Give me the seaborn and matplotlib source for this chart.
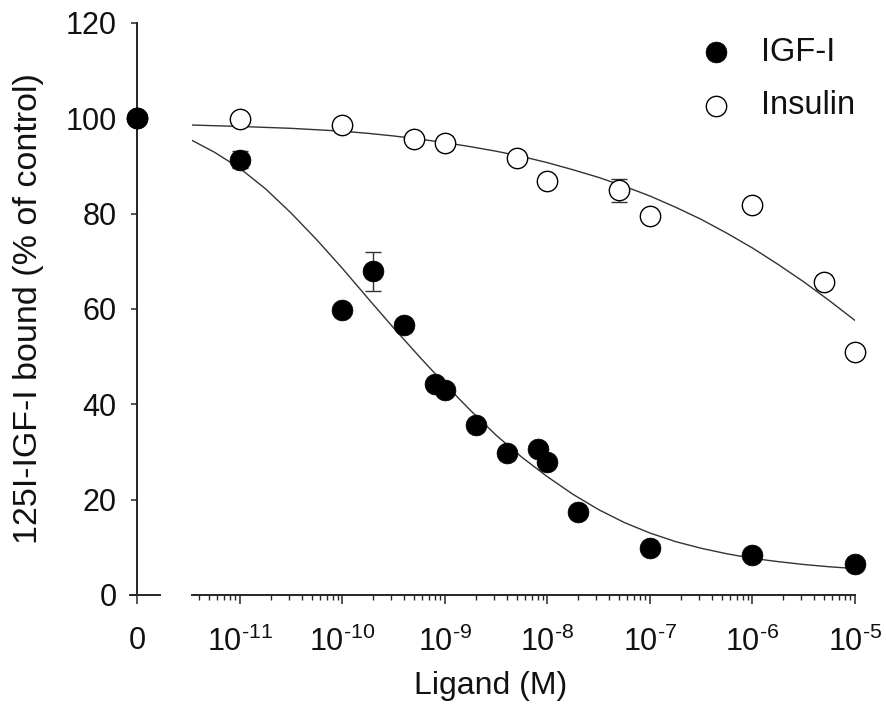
import matplotlib.pyplot as plt
import seaborn as sns
import pandas as pd
import numpy as np

# --- data -----------------------------------------------------------------
igf_conc = [0, 1e-11, 1e-10, 2e-10, 4e-10, 8e-10, 1e-9, 2e-9, 4e-9, 8e-9,
            1e-8, 2e-8, 1e-7, 1e-6, 1e-5]
igf_bound = [100, 91.3, 59.7, 67.9, 56.6, 44.2, 43.0, 35.6, 29.7, 30.7,
             27.9, 17.5, 9.8, 8.4, 6.5]
igf_sem = [0, 1.8, 0, 4.1, 0, 0, 0, 0, 0, 0, 0, 0, 0, 0, 0]

ins_conc = [0, 1e-11, 1e-10, 5e-10, 1e-9, 5e-9, 1e-8, 5e-8, 1e-7, 1e-6,
            5e-6, 1e-5]
ins_bound = [100, 99.9, 98.7, 95.7, 94.8, 91.7, 86.9, 84.9, 79.5, 81.8,
             65.7, 51.0]
ins_sem = [0, 0, 0, 0, 1.5, 0, 0, 2.4, 0, 0, 1.5, 0]

# fitted curves, read at quarter-decade steps of log10(concentration)
fit_logc = [-11.47, -11.25, -11.0, -10.75, -10.5, -10.25, -10.0, -9.75,
            -9.5, -9.25, -9.0, -8.75, -8.5, -8.25, -8.0, -7.75, -7.5,
            -7.25, -7.0, -6.75, -6.5, -6.25, -6.0, -5.75, -5.5, -5.25,
            -5.0]
igf_fit_bound = [95.4, 92.9, 89.5, 85.2, 80.1, 74.5, 68.5, 62.2, 56.0, 50.0,
                 44.2, 38.7, 33.5, 28.9, 24.8, 21.1, 17.9, 15.2, 13.0, 11.2,
                 9.8, 8.65, 7.7, 7.0, 6.4, 5.92, 5.55]
ins_fit_bound = [98.6, 98.45, 98.3, 98.1, 97.9, 97.6, 97.3, 96.85, 96.3,
                 95.65, 94.9, 94.05, 93.1, 92.0, 90.7, 89.2, 87.6, 85.75,
                 83.7, 81.35, 78.8, 75.9, 72.8, 69.35, 65.7, 61.75, 57.6]

decades = [-11, -10, -9, -8, -7, -6, -5]
y_ticks = [0, 20, 40, 60, 80, 100, 120]

igf = pd.DataFrame({'conc': igf_conc, 'bound': igf_bound, 'sem': igf_sem})
ins = pd.DataFrame({'conc': ins_conc, 'bound': ins_bound, 'sem': ins_sem})
fit_conc = 10.0 ** np.array(fit_logc)
igf_fit = pd.DataFrame({'conc': fit_conc, 'bound': igf_fit_bound})
ins_fit = pd.DataFrame({'conc': fit_conc, 'bound': ins_fit_bound})

# --- style ------------------------------------------------------------------
sns.set_theme(style="ticks")
plt.rcParams['font.family'] = ['Liberation Sans', 'DejaVu Sans']
plt.rcParams['mathtext.fontset'] = 'custom'
plt.rcParams['mathtext.rm'] = 'Liberation Sans'
plt.rcParams['mathtext.default'] = 'regular'

FS = 22
TXT = '#111111'
LINE = '#333333'

fig = plt.figure(figsize=(8.87, 7.13), dpi=100)
W, H = 887, 713
ax0 = fig.add_axes([130 / W, 118 / H, 30 / W, 572 / H])   # the "0" segment
ax = fig.add_axes([192 / W, 118 / H, 663 / W, 572 / H])   # log segment

# --- zero-concentration segment --------------------------------------------
z_ins = ins[ins['conc'] == 0]
z_igf = igf[igf['conc'] == 0]
sns.scatterplot(data=z_ins, x='conc', y='bound', ax=ax0, s=215, marker='o',
                facecolor='white', edgecolor='black', linewidth=1.0,
                clip_on=False, zorder=3)
sns.scatterplot(data=z_igf, x='conc', y='bound', ax=ax0, s=225, marker='o',
                color='black', edgecolor='black', linewidth=0.5,
                clip_on=False, zorder=4)
ax0.set_xlim(-0.233, 0.767)
ax0.set_ylim(0, 120)
ax0.set_xticks([0])
ax0.set_xticklabels(['0'])
ax0.set_yticks(y_ticks)
ax0.spines['left'].set_position(('data', 0))
for s in ['top', 'right']:
    ax0.spines[s].set_visible(False)
for s in ['left', 'bottom']:
    ax0.spines[s].set_linewidth(1.4)
ax0.tick_params(axis='x', direction='out', length=6.5, width=1.1,
                labelsize=FS, pad=16, labelcolor=TXT)
ax0.tick_params(axis='y', direction='out', length=4.5, width=1.1,
                labelsize=FS, pad=10, labelcolor=TXT)
ax0.set_xlabel('')
ax0.set_ylabel('125I-IGF-I bound (% of control)', fontsize=24.5, color=TXT)
ax0.yaxis.set_label_coords(-2.87, 0.5)

# --- log segment ----------------------------------------------------------
sns.lineplot(data=igf_fit, x='conc', y='bound', ax=ax, color=LINE,
             linewidth=1.0, zorder=1)
sns.lineplot(data=ins_fit, x='conc', y='bound', ax=ax, color=LINE,
             linewidth=1.0, zorder=1)

nz_igf = igf[igf['conc'] > 0]
nz_ins = ins[ins['conc'] > 0]
ax.errorbar(nz_igf['conc'], nz_igf['bound'], yerr=nz_igf['sem'], fmt='none',
            ecolor=LINE, elinewidth=1.0, capsize=5.5, capthick=1.0, zorder=2)
ax.errorbar(nz_ins['conc'], nz_ins['bound'], yerr=nz_ins['sem'], fmt='none',
            ecolor=LINE, elinewidth=1.0, capsize=5.5, capthick=1.0, zorder=2)

sns.scatterplot(data=nz_igf, x='conc', y='bound', ax=ax, s=225, marker='o',
                color='black', edgecolor='black', linewidth=0.5,
                clip_on=False, zorder=4, label='IGF-I')
sns.scatterplot(data=nz_ins, x='conc', y='bound', ax=ax, s=215, marker='o',
                facecolor='white', edgecolor='black', linewidth=1.0,
                clip_on=False, zorder=3, label='Insulin')

ax.set_xscale('log')
ax.set_xlim(10 ** -11.468, 1e-5)
ax.set_ylim(0, 120)
ax.set_xticks([10.0 ** d for d in decades])
ax.set_xticklabels(['$10^{\\text{-}%d}$' % abs(d) for d in decades])
minor = [m * 10.0 ** d for d in [-12] + decades[:-1] for m in range(2, 10)]
ax.set_xticks([v for v in minor if v > 10 ** -11.468], minor=True)
ax.set_yticks([])
for s in ['top', 'right', 'left']:
    ax.spines[s].set_visible(False)
ax.spines['bottom'].set_linewidth(1.4)
ax.tick_params(axis='x', which='major', direction='out', length=6.5,
               width=1.1, labelsize=FS, pad=16, labelcolor=TXT)
ax.tick_params(axis='x', which='minor', direction='out', length=3.8,
               width=1.0)
ax.set_ylabel('')
ax.set_xlabel('Ligand (M)', fontsize=23, color=TXT)
ax.xaxis.set_label_coords((491 - 192) / 663, -0.132)
ax.xaxis.label.set_verticalalignment('top')

leg = ax.legend(loc='upper left', bbox_to_anchor=(700 / W, 1 - 37 / H),
                bbox_transform=fig.transFigure, frameon=False, fontsize=23.5,
                handlelength=1.0, handletextpad=0.88, labelspacing=0.68,
                borderpad=0, borderaxespad=0)
for t in leg.get_texts():
    t.set_color(TXT)

fig.savefig('out.png', dpi=100)
